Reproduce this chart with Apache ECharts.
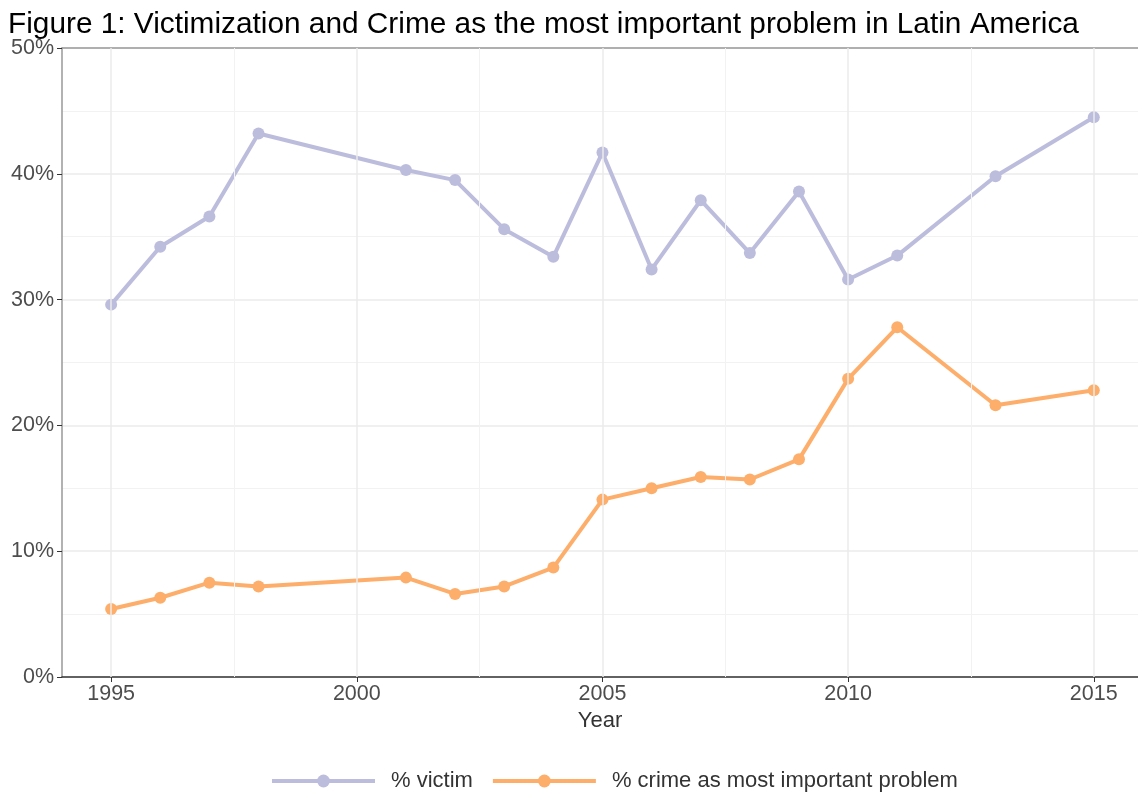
<!DOCTYPE html>
<html>
<head>
<meta charset="utf-8">
<script src="https://cdn.jsdelivr.net/npm/echarts@6/dist/echarts.min.js"></script>
<style>html,body{margin:0;padding:0;background:#fff}#c{width:1138px;height:794px}</style>
</head>
<body>
<div id="c"></div>
<script>
const years = [1995,1996,1997,1998,2001,2002,2003,2004,2005,2006,2007,2008,2009,2010,2011,2013,2015];
const victim = [29.6,34.2,36.6,43.2,40.3,39.5,35.6,33.4,41.7,32.4,37.9,33.7,38.6,31.6,33.5,39.8,44.5];
const crime = [5.4,6.3,7.5,7.2,7.9,6.6,7.2,8.7,14.1,15.0,15.9,15.7,17.3,23.7,27.8,21.6,22.8];
const xTicks = [1995,2000,2005,2010,2015];
const xMinor = [1997.5,2002.5,2007.5,2012.5];
const seriesNames = ['% victim','% crime as most important problem'];

const chart = echarts.init(document.getElementById('c'), null, {renderer:'canvas'});
const font = 'Liberation Sans, Arial, sans-serif';
chart.setOption({
  backgroundColor:'#fff',
  animation:false,
  title:{text:'Figure 1: Victimization and Crime as the most important problem in Latin America',
    left:3, top:5, textStyle:{fontFamily:font,fontSize:29.8,fontWeight:'normal',color:'#000'}},
  legend:{top:765,left:265,itemWidth:103,itemHeight:16,itemGap:18,
    lineStyle:{width:4},
    textStyle:{fontFamily:font,fontSize:22,color:'#333',padding:[0,0,0,11]},
    data:seriesNames},
  grid:{left:62,top:48,right:0,bottom:117,containLabel:false},
  xAxis:[{type:'value',min:1994,max:2015.9,
    name:'Year',nameLocation:'middle',nameGap:33,
    nameTextStyle:{fontFamily:font,fontSize:22,color:'#333'},
    axisLine:{show:true,lineStyle:{color:'#333',width:1.5}},
    axisTick:{show:true,customValues:xTicks,length:5,lineStyle:{color:'#333'}},
    axisLabel:{customValues:xTicks,formatter:v=>String(v),fontFamily:font,fontSize:21.5,color:'#4d4d4d',margin:6},
    splitLine:{show:false}},
    {type:'value',position:'top',min:1994,max:2015.9,
    axisLine:{show:true,lineStyle:{color:'#999',width:1.5}},
    axisTick:{show:false},axisLabel:{show:false},splitLine:{show:false}}],
  yAxis:{type:'value',min:0,max:50,interval:10,
    axisLine:{show:true,lineStyle:{color:'#999',width:1.5}},
    axisTick:{show:true,length:5,lineStyle:{color:'#333'}},
    axisLabel:{formatter:'{value}%',fontFamily:font,fontSize:21.5,color:'#4d4d4d',margin:8},
    splitLine:{show:true,lineStyle:{color:'#ebebeb',width:1.5}},
    minorTick:{show:false,splitNumber:2},
    minorSplitLine:{show:true,lineStyle:{color:'#f2f2f2',width:1}}},
  series:[
    {type:'line',name:'grid',data:[],z:1,silent:true,
      markLine:{silent:true,symbol:'none',label:{show:false},animation:false,
        data:xTicks.map(v=>({xAxis:v,lineStyle:{color:'#ebebeb',width:1.5,type:'solid'}}))
          .concat(xMinor.map(v=>({xAxis:v,lineStyle:{color:'#f2f2f2',width:1,type:'solid'}})))}},
    {type:'line',name:seriesNames[0],data:years.map((y,i)=>[y,victim[i]]),
      itemStyle:{color:'#bcbddc'},lineStyle:{color:'#bcbddc',width:4},
      symbol:'circle',symbolSize:12,z:3},
    {type:'line',name:seriesNames[1],data:years.map((y,i)=>[y,crime[i]]),
      itemStyle:{color:'#fdae6b'},lineStyle:{color:'#fdae6b',width:4},
      symbol:'circle',symbolSize:12,z:3}
  ]
});
</script>
</body>
</html>
